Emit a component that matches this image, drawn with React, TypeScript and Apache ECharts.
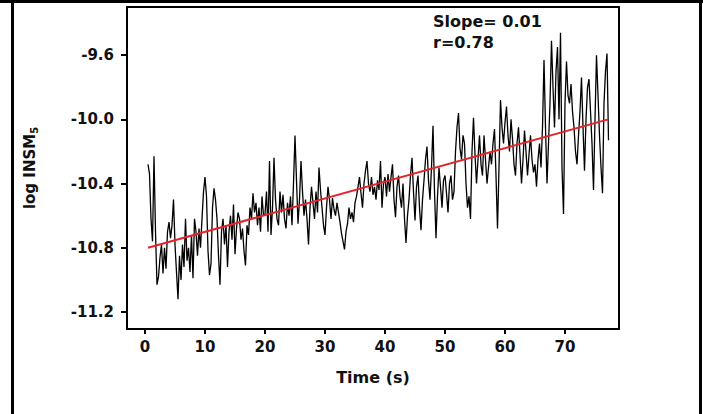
import React, { useEffect, useRef } from "react";
import * as echarts from "echarts";

// Sampling of the trace (s)
const startTime = 0.5;
const sampleStep = 0.25;

// log INSM5 values, in 10 s blocks
const vals0to10 = [
  -10.28, -10.34, -10.62, -10.76, -10.23, -10.7, -11.03, -10.98, -10.86, -10.78,
  -10.96, -10.8, -10.93, -10.7, -10.64, -10.74, -10.66, -10.5, -10.78, -10.95,
  -11.12, -10.85, -11.0, -10.78, -10.92, -10.62, -10.88, -10.8, -10.95, -10.72,
  -10.99, -10.62, -10.7, -10.85, -10.68, -10.8, -10.62, -10.45, -10.36,
];
const vals10to20 = [
  -10.48, -10.82, -10.97, -10.9, -10.55, -10.43, -10.5, -10.62, -10.85, -11.03,
  -10.7, -10.62, -10.78, -10.66, -10.92, -10.7, -10.6, -10.75, -10.53, -10.84,
  -10.68, -10.58, -10.62, -10.75, -10.68, -10.82, -10.91, -10.66, -10.72, -10.55,
  -10.62, -10.46, -10.58, -10.52, -10.66, -10.55, -10.7, -10.48, -10.6, -10.59,
];
const vals20to30 = [
  -10.45, -10.7, -10.26, -10.72, -10.55, -10.24, -10.5, -10.62, -10.66, -10.45,
  -10.58, -10.47, -10.62, -10.68, -10.52, -10.6, -10.48, -10.66, -10.4, -10.1,
  -10.38, -10.65, -10.5, -10.26, -10.45, -10.6, -10.5, -10.62, -10.78, -10.55,
  -10.42, -10.52, -10.62, -10.45, -10.58, -10.3, -10.44, -10.55, -10.66, -10.72,
];
const vals30to40 = [
  -10.55, -10.42, -10.5, -10.62, -10.49, -10.56, -10.6, -10.52, -10.58, -10.64,
  -10.71, -10.76, -10.81, -10.7, -10.65, -10.55, -10.62, -10.58, -10.64, -10.52,
  -10.48, -10.42, -10.36, -10.46, -10.55, -10.4, -10.32, -10.26, -10.4, -10.45,
  -10.36, -10.47, -10.42, -10.5, -10.38, -10.44, -10.26, -10.55, -10.4, -10.36,
];
const vals40to50 = [
  -10.48, -10.34, -10.45, -10.36, -10.28, -10.5, -10.61, -10.42, -10.35, -10.48,
  -10.55, -10.4, -10.62, -10.77, -10.6, -10.5, -10.35, -10.24, -10.45, -10.63,
  -10.42, -10.35, -10.55, -10.69, -10.5, -10.38, -10.25, -10.17, -10.38, -10.5,
  -10.3, -10.04, -10.45, -10.74, -10.48, -10.3, -10.42, -10.55, -10.38, -10.35,
];
const vals50to60 = [
  -10.46, -10.58, -10.4, -10.35, -10.5, -10.45, -10.2, -10.05, -9.96, -10.18,
  -10.25, -10.1, -10.15, -10.4, -10.55, -10.48, -10.62, -10.2, -9.99, -10.22,
  -10.4, -10.25, -10.1, -10.28, -10.35, -10.1, -10.25, -10.4, -10.3, -10.2,
  -10.28, -10.15, -10.06, -10.35, -10.68, -10.3, -9.88, -10.05, -10.15, -10.02,
];
const vals60to70 = [
  -9.92, -10.1, -10.2, -10.0, -10.12, -10.28, -10.35, -10.15, -10.05, -10.22,
  -10.4, -10.25, -10.07, -10.2, -10.35, -10.22, -10.1, -10.25, -10.33, -10.28,
  -10.42, -10.25, -10.15, -10.3, -10.05, -9.63, -10.05, -10.4, -10.15, -9.9,
  -9.51, -9.8, -10.05, -9.7, -9.55, -10.0, -9.46, -10.3, -10.59, -9.9,
];
const vals70to78 = [
  -9.64, -9.85, -9.9, -9.78, -9.95, -10.05, -10.2, -10.28, -10.1, -9.95,
  -9.74, -10.05, -10.32, -10.0, -9.8, -9.75, -9.95, -10.15, -10.44, -10.0,
  -9.6, -9.85, -10.1, -10.3, -10.46, -9.9, -9.7, -9.59, -10.13,
];

// Linear fit end points
const fitTimes = [0.5, 77.2];
const fitValues = [-10.8, -10.0];

const yTickValues = [-11.2, -10.8, -10.4, -10.0, -9.6];
const xTickValues = [0, 10, 20, 30, 40, 50, 60, 70];
const annotationLines = ["Slope= 0.01", "r=0.78"];

const FONT = "DejaVu Sans";

export default function App() {
  const ref = useRef<HTMLDivElement>(null);
  useEffect(() => {
    if (!ref.current) return;
    const chart = echarts.init(ref.current, undefined, { renderer: "svg" });
    const allVals = [
      ...vals0to10, ...vals10to20, ...vals20to30, ...vals30to40,
      ...vals40to50, ...vals50to60, ...vals60to70, ...vals70to78,
    ];
    const trace = allVals.map((v, i) => [startTime + i * sampleStep, v]);
    const fit = fitTimes.map((t, i) => [t, fitValues[i]]);

    chart.setOption({
      animation: false,
      backgroundColor: "#fff",
      grid: {
        left: 127, right: 84, top: 7, bottom: 85,
        show: true, borderColor: "#000", borderWidth: 2,
        containLabel: false,
      },
      xAxis: {
        type: "value", min: -3, max: 79,
        name: "Time (s)", nameLocation: "middle", nameGap: 40,
        nameTextStyle: { fontFamily: FONT, fontWeight: "bold", fontSize: 16, color: "#111" },
        axisLine: { show: true, onZero: false, lineStyle: { color: "#000", width: 2 } },
        axisTick: { show: true, customValues: xTickValues, length: 5, lineStyle: { color: "#000", width: 2 } },
        axisLabel: {
          customValues: xTickValues, margin: 10,
          fontFamily: FONT, fontWeight: "bold", fontSize: 15, color: "#111",
        },
        splitLine: { show: false },
      },
      yAxis: {
        type: "value", min: -11.306, max: -9.3,
        name: "{a|log INSM}{s|5}", nameLocation: "middle", nameGap: 88, nameRotate: 90,
        nameTextStyle: {
          color: "#111",
          rich: {
            a: { fontFamily: FONT, fontWeight: "bold", fontSize: 15, color: "#111" },
            s: { fontFamily: FONT, fontWeight: "bold", fontSize: 10, color: "#111", padding: [8, 0, 0, 0] },
          },
        },
        axisLine: { show: true, onZero: false, lineStyle: { color: "#000", width: 2 } },
        axisTick: { show: true, customValues: yTickValues, length: 6, lineStyle: { color: "#000", width: 2 } },
        axisLabel: {
          customValues: yTickValues, margin: 13,
          formatter: (v: number) => v.toFixed(1),
          fontFamily: FONT, fontWeight: "bold", fontSize: 15, color: "#111",
        },
        splitLine: { show: false },
      },
      series: [
        {
          type: "line", data: trace, showSymbol: false, symbol: "none",
          lineStyle: { color: "#000", width: 1.3 },
          z: 2,
        },
        {
          type: "line", data: fit, showSymbol: false, symbol: "none",
          lineStyle: { color: "#e3242b", width: 2 },
          z: 3,
        },
      ],
      graphic: [
        { type: "rect", shape: { x: 0, y: 0, width: 703, height: 3 }, style: { fill: "#000" } },
        { type: "rect", shape: { x: 11, y: 0, width: 3, height: 414 }, style: { fill: "#000" } },
        { type: "rect", shape: { x: 699, y: 0, width: 3, height: 414 }, style: { fill: "#000" } },
        {
          type: "text", left: 433, top: 13,
          style: { text: annotationLines[0], fontFamily: FONT, fontWeight: "bold", fontSize: 16, fill: "#111" },
        },
        {
          type: "text", left: 433, top: 34,
          style: { text: annotationLines[1], fontFamily: FONT, fontWeight: "bold", fontSize: 16, fill: "#111" },
        },
      ],
    });
    return () => chart.dispose();
  }, []);
  return (
    <div
      ref={ref}
      style={{ position: "fixed", left: 0, top: 0, width: 703, height: 414, background: "#fff" }}
    />
  );
}
